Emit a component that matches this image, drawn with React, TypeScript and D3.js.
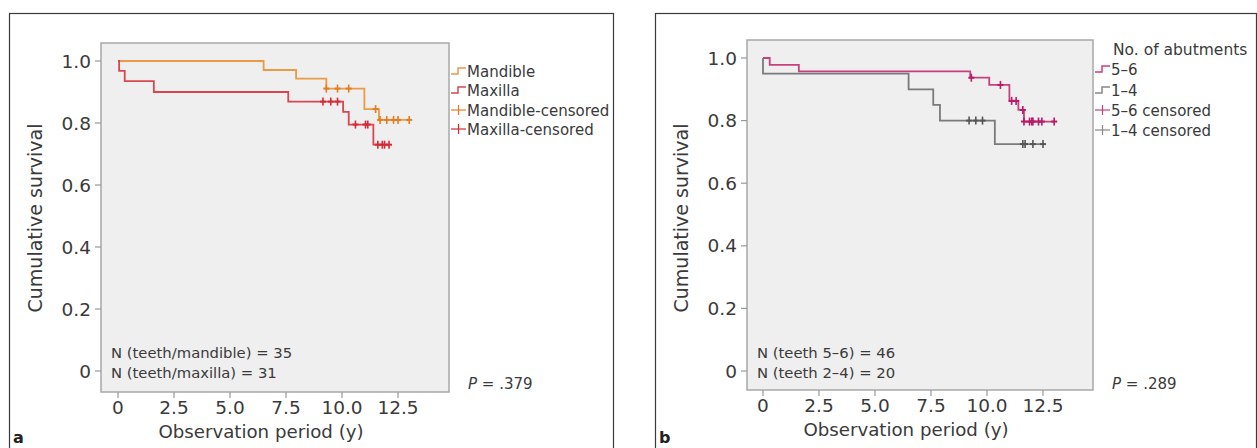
import { useEffect, useRef } from "react";
import * as d3 from "d3";

// x tick labels shared by both panels
const xTicks = [0, 2.5, 5.0, 7.5, 10.0, 12.5];
const xTickLabels = ["0", "2.5", "5.0", "7.5", "10.0", "12.5"];
const yTicks = [0, 0.2, 0.4, 0.6, 0.8, 1.0];
const yTickLabels = ["0", "0.2", "0.4", "0.6", "0.8", "1.0"];

// panel a - mandible
const mandTimes = [0, 6.5, 7.95, 9.3, 11.0, 11.65];
const mandSurv = [1, 0.971, 0.943, 0.911, 0.845, 0.81];
const mandEnd = 13.0;
const mandCensor = [9.3, 9.8, 10.3, 11.5, 11.7, 12.0, 12.3, 12.5, 13.0];

// panel a - maxilla
const maxTimes = [0, 0.05, 0.3, 1.6, 7.6, 10.05, 10.3, 11.4];
const maxSurv = [1, 0.968, 0.935, 0.9, 0.869, 0.836, 0.795, 0.73];
const maxEnd = 12.1;
const maxCensor = [9.15, 9.5, 9.8, 10.6, 11.05, 11.15, 11.6, 11.8, 11.9, 12.1];

// panel b - 5-6 abutments
const ab56Times = [0, 0.3, 1.6, 9.25, 10.1, 11.0, 11.4, 11.65];
const ab56Surv = [1, 0.978, 0.957, 0.937, 0.914, 0.863, 0.834, 0.797];
const ab56End = 13.0;
const ab56Censor = [9.3, 10.6, 11.1, 11.3, 11.6, 11.65, 11.9, 12.0, 12.05, 12.3, 12.45, 13.0];

// panel b - 1-4 abutments
const ab14Times = [0, 0, 6.5, 7.6, 7.9, 10.35];
const ab14Surv = [1, 0.95, 0.9, 0.85, 0.8, 0.725];
const ab14End = 12.5;
const ab14Censor = [9.2, 9.5, 9.8, 11.6, 11.7, 12.05, 12.5];

const FONT = "'DejaVu Sans', Verdana, sans-serif";
const TXT = "#3a3a3a";

type Series = {
  times: number[];
  surv: number[];
  end: number;
  censor: number[];
  color: string;
  censorColor: string;
};

function survAt(s: Series, t: number) {
  let v = 1;
  s.times.forEach((tt, i) => {
    if (tt <= t) v = s.surv[i];
  });
  return v;
}

function drawPanel(svg: any, cfg: any) {
  const x = d3.scaleLinear().domain([0, 12.5]).range([cfg.x0, cfg.x125]);
  const y = d3.scaleLinear().domain([0, 1]).range([cfg.y0, cfg.y1]);
  const g = svg.append("g");

  // outer frame
  g.append("rect")
    .attr("x", cfg.box[0] + 0.5).attr("y", cfg.box[1] + 0.5)
    .attr("width", cfg.box[2] - cfg.box[0]).attr("height", 460)
    .attr("fill", "none").attr("stroke", "#3a3a3a").attr("stroke-width", 1.2);

  // plot area
  const [pl, pt, pr, pb] = cfg.plot;
  g.append("rect")
    .attr("x", pl).attr("y", pt).attr("width", pr - pl).attr("height", pb - pt)
    .attr("fill", "#efefef").attr("stroke", "#a8a8a8").attr("stroke-width", 1.5);

  // y axis ticks
  yTicks.forEach((v, i) => {
    g.append("line").attr("x1", pl - 6).attr("x2", pl).attr("y1", y(v)).attr("y2", y(v))
      .attr("stroke", "#999").attr("stroke-width", 1.2);
    g.append("text").attr("x", pl - 10).attr("y", y(v) + 6.5)
      .attr("text-anchor", "end").attr("font-size", 18.5).attr("fill", TXT)
      .attr("font-family", FONT).text(yTickLabels[i]);
  });
  xTicks.forEach((v, i) => {
    g.append("line").attr("x1", x(v)).attr("x2", x(v)).attr("y1", pb).attr("y2", pb + 6)
      .attr("stroke", "#999").attr("stroke-width", 1.2);
    g.append("text").attr("x", x(v)).attr("y", pb + 22)
      .attr("text-anchor", "middle").attr("font-size", 18.5).attr("fill", TXT)
      .attr("font-family", FONT).text(xTickLabels[i]);
  });

  g.append("text").attr("x", (x(0) + x(12.5)) / 2 + 3).attr("y", pb + 46)
    .attr("text-anchor", "middle").attr("font-size", 18.2).attr("fill", TXT)
    .attr("font-family", FONT).text("Observation period (y)");
  g.append("text")
    .attr("transform", `translate(${cfg.yTitleX},${218}) rotate(-90)`)
    .attr("text-anchor", "middle").attr("font-size", 19).attr("fill", TXT)
    .attr("font-family", FONT).text("Cumulative survival");

  // curves
  const line = d3.line<[number, number]>()
    .x(d => x(d[0])).y(d => y(d[1])).curve(d3.curveStepAfter);
  cfg.series.forEach((s: Series) => {
    const pts: [number, number][] = s.times.map((t, i) => [t, s.surv[i]]);
    pts.push([s.end, s.surv[s.surv.length - 1]]);
    g.append("path").attr("d", line(pts)).attr("fill", "none")
      .attr("stroke", s.color).attr("stroke-width", 1.8);
  });
  cfg.series.forEach((s: Series) => {
    s.censor.forEach(t => {
      const cx = x(t), cy = y(survAt(s, t));
      g.append("line").attr("x1", cx).attr("x2", cx).attr("y1", cy - 4).attr("y2", cy + 4)
        .attr("stroke", s.censorColor).attr("stroke-width", 1.6);
      g.append("line").attr("x1", cx - 3).attr("x2", cx + 3).attr("y1", cy).attr("y2", cy)
        .attr("stroke", s.censorColor).attr("stroke-width", 2);
    });
  });

  // legend
  const lx = pr + 2;
  if (cfg.legendTitle) {
    g.append("text").attr("x", cfg.legendTitleX).attr("y", 55)
      .attr("font-size", 15.5).attr("fill", TXT).attr("font-family", FONT).text(cfg.legendTitle);
  }
  cfg.legend.forEach((item: any, i: number) => {
    const cy = cfg.legendY[i];
    if (item.type === "step") {
      g.append("path")
        .attr("d", `M${lx},${cy + 3}H${lx + 7}V${cy - 3}H${lx + 15}`)
        .attr("fill", "none").attr("stroke", item.color).attr("stroke-width", 1.5);
    } else {
      g.append("line").attr("x1", lx).attr("x2", lx + 15).attr("y1", cy).attr("y2", cy)
        .attr("stroke", item.color).attr("stroke-width", 1.2);
      g.append("line").attr("x1", lx + 7.5).attr("x2", lx + 7.5).attr("y1", cy - 5).attr("y2", cy + 5)
        .attr("stroke", item.color).attr("stroke-width", 1.2);
    }
    g.append("text").attr("x", lx + 16).attr("y", cy + 5.5)
      .attr("font-size", 15).attr("fill", TXT).attr("font-family", FONT).text(item.label);
  });

  // annotations
  cfg.notes.forEach((n: string, i: number) => {
    g.append("text").attr("x", pl + 10).attr("y", 358 + i * 19.5)
      .attr("font-size", 14.8).attr("fill", TXT).attr("font-family", FONT).text(n);
  });
  const p = g.append("text").attr("x", pr + 19).attr("y", 389)
    .attr("font-size", 15).attr("fill", TXT).attr("font-family", FONT);
  p.append("tspan").attr("font-style", "italic").text("P");
  p.append("tspan").text(` = ${cfg.pValue}`);

  g.append("text").attr("x", cfg.box[0] + 4).attr("y", 443)
    .attr("font-size", 16).attr("font-weight", "bold").attr("fill", "#222")
    .attr("font-family", FONT).text(cfg.letter);
}

export default function App() {
  const ref = useRef<SVGSVGElement>(null);

  useEffect(() => {
    const svg = d3.select(ref.current);
    svg.selectAll("*").remove();
    svg.append("rect").attr("width", 1257).attr("height", 448).attr("fill", "#fff");

    drawPanel(svg, {
      box: [9, 13, 613],
      plot: [101, 43, 449, 392],
      x0: 118, x125: 398, y0: 371, y1: 61,
      yTitleX: 42,
      series: [
        { times: mandTimes, surv: mandSurv, end: mandEnd, censor: mandCensor, color: "#eb9a45", censorColor: "#e57d1e" },
        { times: maxTimes, surv: maxSurv, end: maxEnd, censor: maxCensor, color: "#d8474f", censorColor: "#d42a36" },
      ],
      legend: [
        { type: "step", color: "#eb9a45", label: "Mandible" },
        { type: "step", color: "#d8474f", label: "Maxilla" },
        { type: "cens", color: "#e57d1e", label: "Mandible-censored" },
        { type: "cens", color: "#d42a36", label: "Maxilla-censored" },
      ],
      legendY: [71, 90, 110, 129],
      notes: ["N (teeth/mandible) = 35", "N (teeth/maxilla) = 31"],
      pValue: ".379",
      letter: "a",
    });

    drawPanel(svg, {
      box: [655, 13, 1256],
      plot: [747, 40, 1093, 390],
      x0: 763, x125: 1043, y0: 371, y1: 58,
      yTitleX: 688,
      series: [
        { times: ab14Times, surv: ab14Surv, end: ab14End, censor: ab14Censor, color: "#7a7a7a", censorColor: "#555" },
        { times: ab56Times, surv: ab56Surv, end: ab56End, censor: ab56Censor, color: "#c8417f", censorColor: "#b8196a" },
      ],
      legendTitle: "No. of abutments",
      legendTitleX: 1113,
      legend: [
        { type: "step", color: "#c8417f", label: "5\u20136" },
        { type: "step", color: "#888", label: "1\u20134" },
        { type: "cens", color: "#c8417f", label: "5\u20136 censored" },
        { type: "cens", color: "#888", label: "1\u20134 censored" },
      ],
      legendY: [69, 90, 110, 130],
      notes: ["N (teeth 5\u20136) = 46", "N (teeth 2\u20134) = 20"],
      pValue: ".289",
      letter: "b",
    });
  }, []);

  return (
    <div style={{ position: "absolute", left: 0, top: 0 }}>
      <svg ref={ref} width={1257} height={448} style={{ display: "block" }} />
    </div>
  );
}
